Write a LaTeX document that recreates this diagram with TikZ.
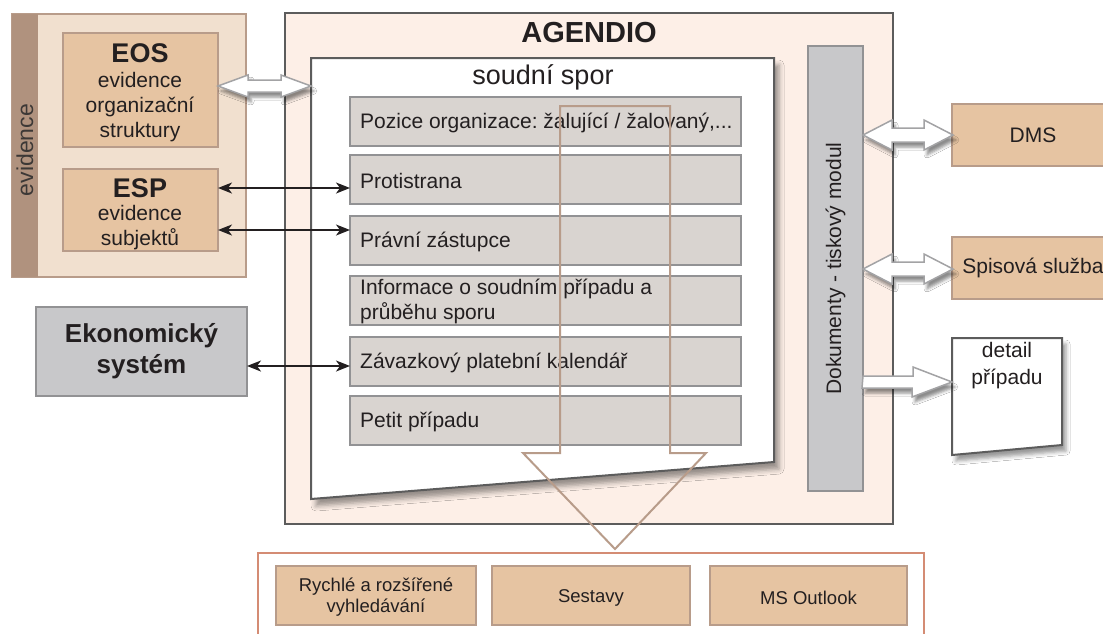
\documentclass[tikz,border=0pt]{standalone}
\usepackage{fontspec}
\setmainfont{Liberation Sans}
\frenchspacing
\usetikzlibrary{arrows.meta,shadows.blur,calc}
\definecolor{tanfill}{HTML}{E6C4A2}
\definecolor{tanline}{HTML}{B89C8A}
\definecolor{evfill}{HTML}{F1E0CF}
\definecolor{evstrip}{HTML}{B0927E}
\definecolor{agfill}{HTML}{FDEFE7}
\definecolor{agline}{HTML}{5C5C5C}
\definecolor{barfill}{HTML}{D9D4D0}
\definecolor{barline}{HTML}{929294}
\definecolor{greyfill}{HTML}{C8C8CA}
\definecolor{salmon}{HTML}{D48C74}
\definecolor{txt}{HTML}{231F20}
\definecolor{txtgrey}{HTML}{3C3836}
\definecolor{arrline}{HTML}{A3A3A5}
\newcommand\fs[2]{\fontsize{#1}{#2}\selectfont}
% start, length, headlen, headhalf, shafthalf
\newcommand\blockdbl[5]{%
\draw[blockarr] (#1) -- ++(#3,-#4) -- ++(0,{#4-#5}) -- ++({#2-2*#3},0) -- ++(0,{#5-#4}) -- ++(#3,#4) -- ++(-#3,#4) -- ++(0,{#5-#4}) -- ++({2*#3-#2},0) -- ++(0,{#4-#5}) -- cycle;}
\begin{document}
\begin{tikzpicture}[x=1pt,y=-1pt,
  every node/.append style={text=txt},
  box/.style={draw, line width=1.6pt, inner sep=0pt, outer sep=0pt, anchor=north west},
  tanbox/.style={box, draw=tanline, fill=tanfill},
  greybox/.style={box, draw=barline, fill=greyfill},
  bar/.style={box, draw=barline, fill=barfill, minimum width=391, minimum height=49},
  bartxt/.style={inner sep=0pt, anchor=west, align=left, font=\fs{21}{25}},
  subtxt/.style={inner sep=0pt, align=center, font=\fs{18.5}{21}},
  thinarr/.style={{Stealth[length=14pt,width=11pt,inset=4pt]}-{Stealth[length=14pt,width=11pt,inset=4pt]}, line width=1.6pt, draw=txt},
  blockarr/.style={draw=arrline, fill=white, line width=1.5pt, line join=miter, blur shadow={shadow xshift=3pt, shadow yshift=-5pt, shadow blur radius=3pt, shadow opacity=45}},
  lbl/.style={inner sep=0pt, align=center}
]
\useasboundingbox (0,0) rectangle (1103,633);
\clip (0,0) rectangle (1103,633);
\fill[white] (0,0) rectangle (1103,633);

% helper rows
\coordinate (yE) at (0,86);
\coordinate (r1) at (0,188);
\coordinate (r2) at (0,230);
\coordinate (r3) at (0,366);
\coordinate (yD) at (0,135);
\coordinate (yS) at (0,269);
\coordinate (yP) at (0,382);

% evidence group
\node[box, draw=tanline, fill=evfill, minimum width=234, minimum height=263] (evid) at (12,14) {};
\node[box, draw=none, fill=evstrip, minimum width=26, minimum height=263] (strip) at (12,14) {};
\node[lbl, rotate=90, font=\fs{23}{27}, text=txtgrey] (evtxt) at (25,150) {evidence};
\node[tanbox, minimum width=155, minimum height=114] (eos) at (63,33) {};
\node[lbl, font=\bfseries\fs{27}{30}] (eosT) at (140,53) {EOS};
\node[lbl, font=\fs{21}{25}] (eosS) at (140,107) {evidence\\organizační\\struktury};
\node[tanbox, minimum width=155, minimum height=82] (esp) at (63,169) {};
\node[lbl, font=\bfseries\fs{27}{30}] (espT) at (140,188) {ESP};
\node[lbl, font=\fs{21}{25}] (espS) at (140,228) {evidence\\subjektů};

% Ekonomicky system
\node[greybox, minimum width=211, minimum height=89, font=\bfseries\fs{26}{31}, align=center] (eko) at (36,307) {Ekonomický\\systém};

% AGENDIO
\node[box, draw=agline, fill=agfill, line width=2pt, minimum width=608, minimum height=511] (ag) at (285,13) {};
\node[lbl, font=\bfseries\fs{29}{32}] (agT) at (589,33) {AGENDIO};

% soudni spor sheet
\coordinate (spor) at (311,58);
\draw[draw=agline, line width=2pt, fill=white, line join=miter, blur shadow={shadow xshift=5pt, shadow yshift=-7pt, shadow blur radius=5pt, shadow opacity=40}] (spor) -- (774,58) -- (774,462) -- (311,499) -- cycle;
\node[lbl, font=\fs{27}{30}] (sporT) at (543,77) {soudní spor};

\node[bar] (poz) at (350,97) {};
\node[bartxt] (pozT) at ([xshift=10pt,yshift=-1pt]poz.west) {Pozice organizace: žalující / žalovaný,...};
\node[bar] (prot) at (350,155) {};
\node[bartxt] (protT) at ([xshift=10pt,yshift=-1pt]prot.west) {Protistrana};
\node[bar] (prav) at (350,216) {};
\node[bartxt] (pravT) at ([xshift=10pt,yshift=-1pt]prav.west) {Právní zástupce};
\node[bar] (inf) at (350,276) {};
\node[bartxt] (infT) at ([xshift=10pt,yshift=-1pt]inf.west) {Informace o soudním případu a\\průběhu sporu};
\node[bar] (zav) at (350,337) {};
\node[bartxt] (zavT) at ([xshift=10pt,yshift=-1pt]zav.west) {Závazkový platební kalendář};
\node[bar] (pet) at (350,396) {};
\node[bartxt] (petT) at ([xshift=10pt,yshift=-1pt]pet.west) {Petit případu};

% Dokumenty bar
\node[greybox, minimum width=55, minimum height=445] (dok) at (808,46) {};
\node[lbl, rotate=90, font=\fs{21}{25}] (dokT) at (dok.center) {Dokumenty - tiskový modul};

% right side
\node[tanbox, minimum width=162, minimum height=62, font=\fs{21}{25}] (dms) at (952,104) {DMS};
\node[tanbox, minimum width=162, minimum height=62, font=\fs{21}{25}] (spis) at (952,237) {Spisová služba};
\coordinate (det) at (952,338);
\draw[draw=agline, line width=2pt, fill=white, line join=miter, blur shadow={shadow xshift=4pt, shadow yshift=-6pt, shadow blur radius=4pt, shadow opacity=40}] (det) -- (1062,338) -- (1062,445) -- (952,455) -- cycle;
\node[lbl, font=\fs{21}{27}] (detT) at (1007,366) {detail\\případu};

% bottom group
\draw[salmon, line width=1.6pt] (258,640) -- (258,553) -- (924,553) -- (924,640);
\node[tanbox, minimum width=200, minimum height=59] (ryc) at (276,566) {};
\node[subtxt] (rycT) at ([yshift=-2pt]ryc.center) {Rychlé a rozšířené\\vyhledávání};
\node[tanbox, minimum width=198, minimum height=59] (ses) at (492,566) {};
\node[subtxt] (sesT) at ([yshift=-2pt]ses.center) {Sestavy};
\node[tanbox, minimum width=197, minimum height=59] (msol) at (710,566) {};
\node[subtxt] (msolT) at ([yshift=-2pt]msol.center) {MS Outlook};

% block arrows
\blockdbl{eos.east |- yE}{93}{30}{11}{6}
\blockdbl{dok.east |- yD}{90}{29}{15}{7}
\blockdbl{dok.east |- yS}{90}{29}{15}{7}
\draw[blockarr] ($(dok.east |- yP)+(0,-6)$) -- ++(50,0) -- ++(0,-9) -- (det |- yP) -- ++(-40,15) -- ++(0,-9) -- ++(-50,0) -- cycle;

% thin arrows
\draw[thinarr] (esp.east |- r1) -- (prot.west |- r1);
\draw[thinarr] (esp.east |- r2) -- (prav.west |- r2);
\draw[thinarr] (eko.east |- r3) -- (zav.west |- r3);

% big flow arrow
\draw[tanline, line width=2pt, line join=miter] (560,106) -- (670,106) -- (670,453) -- (706,453) -- (615,549) -- (523,453) -- (560,453) -- cycle;
\end{tikzpicture}
\end{document}
